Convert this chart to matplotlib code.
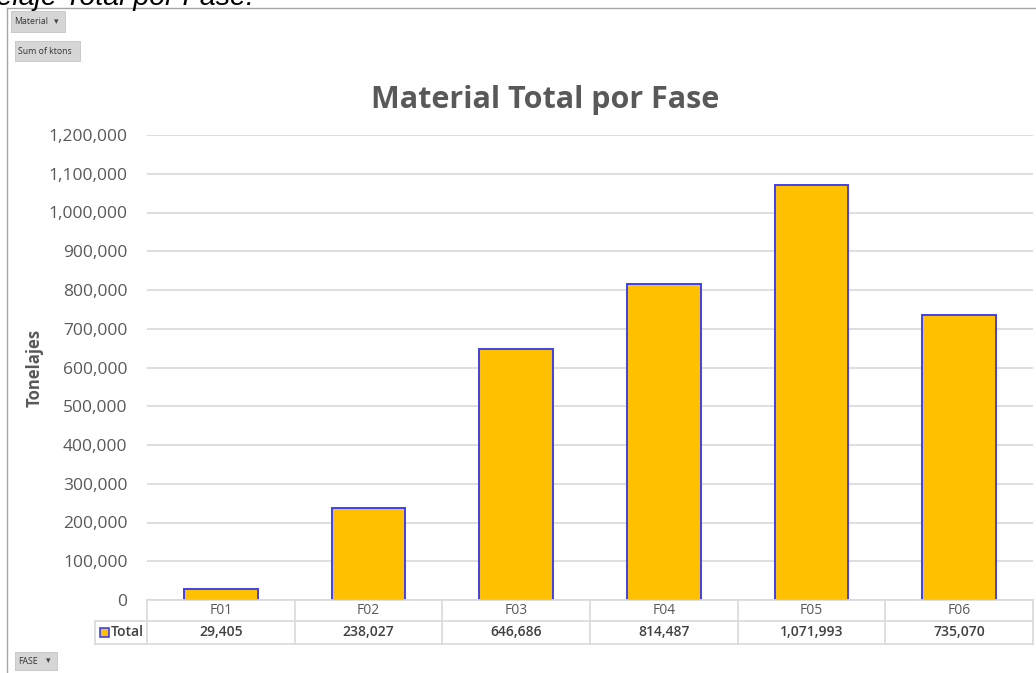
import matplotlib.pyplot as plt
from matplotlib.patches import Rectangle
from matplotlib.lines import Line2D
from matplotlib.transforms import blended_transform_factory

plt.rcParams['font.family'] = ['Open Sans', 'DejaVu Sans']

fases = ['F01', 'F02', 'F03', 'F04', 'F05', 'F06']
toneladas = [29405, 238027, 646686, 814487, 1071993, 735070]
yticks = list(range(0, 1200001, 100000))

W, H = 1036, 673
fig = plt.figure(figsize=(W / 100, H / 100), dpi=100)

def fx(px):
    return px / W

def fy(py):
    return 1 - py / H

# plot area
ax = fig.add_axes([fx(147), fy(600), fx(1033) - fx(147), fy(135) - fy(600)])
x = list(range(len(fases)))
ax.bar(x, toneladas, width=0.5, color='#FFC000', edgecolor='#4040F0', linewidth=1.4, zorder=3)
ax.set_xlim(-0.5, len(fases) - 0.5)
ax.set_ylim(0, 1200000)
ax.set_yticks(yticks)
ax.set_yticklabels([f'{v:,}' for v in yticks], fontsize=12.5, color='#595959')
ax.tick_params(axis='y', length=0, pad=14)
ax.set_xticks([])
ax.grid(axis='y', color='#D9D9D9', linewidth=1.2, zorder=0)
for s in ax.spines.values():
    s.set_visible(False)

fig.text(fx(35), fy(368), 'Tonelajes', rotation=90, fontsize=12, fontweight='bold',
         color='#595959', ha='center', va='center')
fig.text(fx(545), fy(100), 'Material Total por Fase', fontsize=22, fontweight='bold',
         color='#595959', ha='center', va='center')

# data table under the axis
tr = blended_transform_factory(ax.transData, fig.transFigure)
grid_c = '#D9D9D9'
row_top, row_mid, row_bot = fy(600), fy(621), fy(644)
for yy in (row_mid, row_bot):
    fig.add_artist(Line2D([fx(95), fx(1033)], [yy, yy], color=grid_c, lw=1.2))
fig.add_artist(Line2D([fx(147), fx(1033)], [row_top, row_top], color=grid_c, lw=1.2))
fig.add_artist(Line2D([fx(95), fx(95)], [row_mid, row_bot], color=grid_c, lw=1.2))
for i in range(len(fases) + 1):
    ax.add_artist(Line2D([i - 0.5, i - 0.5], [row_top, row_bot], color=grid_c, lw=1.2,
                         transform=tr, clip_on=False))
for i, (f, v) in enumerate(zip(fases, toneladas)):
    ax.text(i, (row_top + row_mid) / 2, f, transform=tr, ha='center', va='center',
            fontsize=10, color='#595959', clip_on=False)
    ax.text(i, (row_mid + row_bot) / 2, f'{v:,}', transform=tr, ha='center', va='center',
            fontsize=10, color='#404040', fontweight='semibold', clip_on=False)
fig.add_artist(Rectangle((fx(100), fy(637)), fx(9), fy(628) - fy(637), facecolor='#FFC000',
                         edgecolor='#4040F0', lw=1.2))
fig.text(fx(111), (row_mid + row_bot) / 2, 'Total', fontsize=10, color='#404040',
         fontweight='semibold', ha='left', va='center')

# sheet frame and pivot buttons
fig.add_artist(Line2D([fx(7), fx(1036)], [fy(8), fy(8)], color='#A6A6A6', lw=1))
fig.add_artist(Line2D([fx(7), fx(7)], [fy(8), fy(673)], color='#A6A6A6', lw=1))

def boton(x0, y0, x1, y1, label, arrow=False):
    fig.add_artist(Rectangle((fx(x0), fy(y1)), fx(x1) - fx(x0), fy(y0) - fy(y1),
                             facecolor='#D6D6D6', edgecolor='#C4C4C4', lw=0.6))
    fig.text(fx(x0 + 3), (fy(y0) + fy(y1)) / 2, label, fontsize=6.3, color='#333333',
             ha='left', va='center')
    if arrow:
        fig.text(fx(x1 - 9), (fy(y0) + fy(y1)) / 2, '▾', fontsize=6.5, color='#444444',
                 ha='center', va='center', family='DejaVu Sans')

boton(11, 11, 65, 32, 'Material', arrow=True)
boton(15, 41, 80, 61, 'Sum of ktons')
boton(15, 652, 57, 670, 'FASE', arrow=True)

# worksheet heading above the chart, mostly scrolled out of view
fig.text(fx(-50), fy(5), 'Tonelaje Total por Fase:', fontsize=20.5, style='italic',
         color='black', ha='left', va='baseline', family='Liberation Sans')

fig.savefig('out.png', dpi=100)
